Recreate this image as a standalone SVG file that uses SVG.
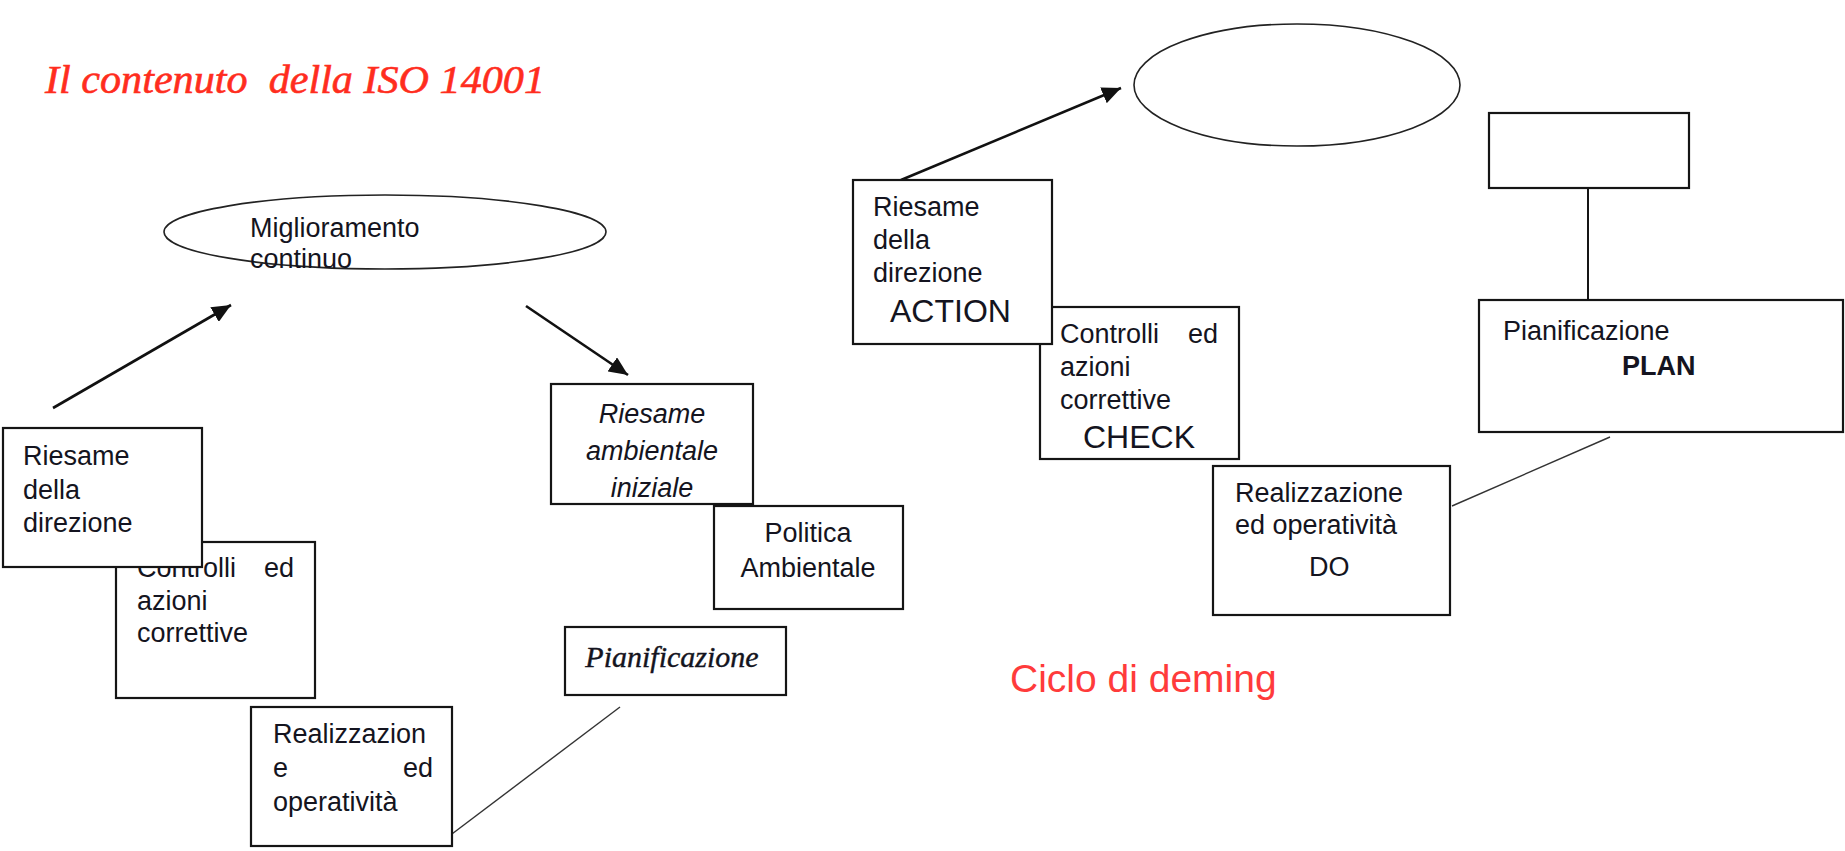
<svg xmlns="http://www.w3.org/2000/svg" width="1845" height="851" viewBox="0 0 1845 851">
  <defs>
    <style>
      .box { fill: #ffffff; stroke: #151515; stroke-width: 2.2; }
      .oval { fill: none; stroke: #222222; stroke-width: 1.6; }
      .t { font-family: "Liberation Sans", Arial, sans-serif; font-size: 27px; fill: #141420; }
      .ti { font-style: italic; }
      .big { font-size: 32px; }
      .arrow { stroke: #111111; stroke-width: 2.6; fill: none; }
      .thin { stroke: #333333; stroke-width: 1.4; fill: none; }
      .stem { stroke: #151515; stroke-width: 2; fill: none; }
      .title { font-family: "Liberation Serif", "Times New Roman", serif; font-style: italic; font-size: 40px; fill: #ff2d1e; stroke: #ff2d1e; stroke-width: 0.6; white-space: pre; }
      .caption { font-family: "Liberation Sans", Arial, sans-serif; font-size: 39px; fill: #ff3b3b; }
    </style>
    <marker id="head" markerUnits="userSpaceOnUse" markerWidth="21" markerHeight="17" refX="19" refY="8.5" orient="auto">
      <path d="M0,0 L19,8.5 L0,17 Z" fill="#111111"/>
    </marker>
  </defs>

  <rect width="1845" height="851" fill="#ffffff"/>

  <!-- headings -->
  <text class="title" x="45" y="93" textLength="500" lengthAdjust="spacingAndGlyphs" xml:space="preserve">Il contenuto  della ISO 14001</text>
  <text class="caption" x="1010" y="692">Ciclo di deming</text>

  <!-- connectors -->
  <g id="connectors">
    <line class="arrow" x1="53" y1="408" x2="231" y2="305" marker-end="url(#head)"/>
    <line class="arrow" x1="526" y1="306" x2="628" y2="375" marker-end="url(#head)"/>
    <line class="thin" x1="440" y1="843" x2="620" y2="707"/>
    <line class="arrow" x1="901" y1="180" x2="1121" y2="88" marker-end="url(#head)"/>
    <line class="stem" x1="1588" y1="188" x2="1588" y2="308"/>
    <line class="thin" x1="1452" y1="506" x2="1610" y2="437"/>
  </g>

  <!-- ISO 14001 cycle -->
  <g id="miglioramento">
    <ellipse class="oval" cx="385" cy="232" rx="221" ry="37"/>
    <text class="t" x="250" y="237">Miglioramento</text>
    <text class="t" x="250" y="268">continuo</text>
  </g>

  <g id="controlli-iso">
    <rect class="box" x="116" y="542" width="199" height="156"/>
    <text class="t" x="137" y="577">Controlli</text>
    <text class="t" x="294" y="577" text-anchor="end">ed</text>
    <text class="t" x="137" y="610">azioni</text>
    <text class="t" x="137" y="642">correttive</text>
  </g>

  <g id="riesame-direzione-iso">
    <rect class="box" x="3" y="428" width="199" height="139"/>
    <text class="t" x="23" y="465">Riesame</text>
    <text class="t" x="23" y="499">della</text>
    <text class="t" x="23" y="532">direzione</text>
  </g>

  <g id="realizzazione-iso">
    <rect class="box" x="251" y="707" width="201" height="139"/>
    <text class="t" x="273" y="743">Realizzazion</text>
    <text class="t" x="273" y="777">e</text>
    <text class="t" x="433" y="777" text-anchor="end">ed</text>
    <text class="t" x="273" y="811">operatività</text>
  </g>

  <g id="riesame-ambientale">
    <rect class="box" x="551" y="384" width="202" height="120"/>
    <text class="t ti" x="652" y="423" text-anchor="middle" font-size="29.5">Riesame</text>
    <text class="t ti" x="652" y="460" text-anchor="middle" font-size="29.5">ambientale</text>
    <text class="t ti" x="652" y="497" text-anchor="middle" font-size="29.5">iniziale</text>
  </g>

  <g id="politica-ambientale">
    <rect class="box" x="714" y="506" width="189" height="103"/>
    <text class="t" x="808" y="542" text-anchor="middle">Politica</text>
    <text class="t" x="808" y="577" text-anchor="middle">Ambientale</text>
  </g>

  <g id="pianificazione-iso">
    <rect class="box" x="565" y="627" width="221" height="68"/>
    <text x="672" y="667" text-anchor="middle" font-family="'Liberation Serif', 'Times New Roman', serif" font-style="italic" font-size="30" fill="#141420" stroke="#141420" stroke-width="0.4">Pianificazione</text>
  </g>

  <!-- Deming cycle -->
  <g id="ellisse-vuota">
    <ellipse class="oval" cx="1297" cy="85" rx="163" ry="61"/>
  </g>

  <g id="check">
    <rect class="box" x="1040" y="307" width="199" height="152"/>
    <text class="t" x="1060" y="343">Controlli</text>
    <text class="t" x="1218" y="343" text-anchor="end">ed</text>
    <text class="t" x="1060" y="376">azioni</text>
    <text class="t" x="1060" y="409">correttive</text>
    <text class="t big" x="1083" y="448">CHECK</text>
  </g>

  <g id="action">
    <rect class="box" x="853" y="180" width="199" height="164"/>
    <text class="t" x="873" y="216">Riesame</text>
    <text class="t" x="873" y="249">della</text>
    <text class="t" x="873" y="282">direzione</text>
    <text class="t big" x="890" y="322">ACTION</text>
  </g>

  <g id="do">
    <rect class="box" x="1213" y="466" width="237" height="149"/>
    <text class="t" x="1235" y="502">Realizzazione</text>
    <text class="t" x="1235" y="534">ed operatività</text>
    <text class="t" x="1309" y="576" font-size="33">DO</text>
  </g>

  <g id="rettangolo-vuoto">
    <rect class="box" x="1489" y="113" width="200" height="75"/>
  </g>

  <g id="plan">
    <rect class="box" x="1479" y="300" width="364" height="132"/>
    <text class="t" x="1503" y="340" font-size="30">Pianificazione</text>
    <text class="t" x="1622" y="375" font-size="30" font-weight="bold">PLAN</text>
  </g>
</svg>
